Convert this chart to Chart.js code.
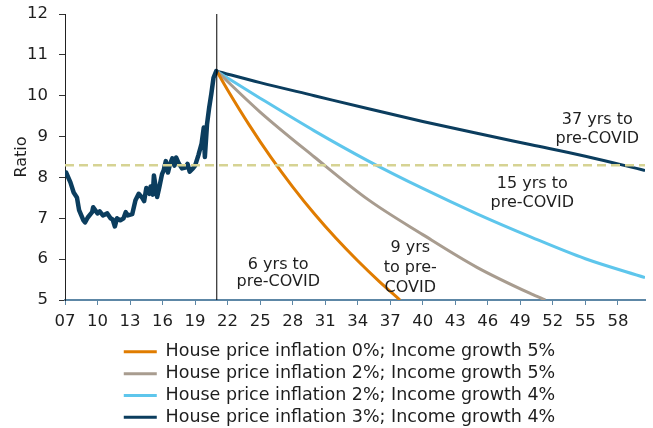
<!DOCTYPE html>
<html>
<head>
<meta charset="utf-8">
<script src="https://cdn.jsdelivr.net/npm/chart.js@4/dist/chart.umd.min.js"></script>
<style>
	html, body { margin: 0; padding: 0; background: #fff; }
	.chart-box { width: 653px; height: 428px; }
</style>
</head>
<body>
<div class="chart-box"><canvas id="ratio-chart"></canvas></div>
<script>
// historical house price to income ratio
const histYears = [2007.1, 2007.5, 2007.8, 2008.1, 2008.3, 2008.7, 2008.85, 2009.1, 2009.5, 2009.6,
	2010.0, 2010.2, 2010.5, 2010.9, 2011.2, 2011.4, 2011.6, 2011.8, 2012.1, 2012.4,
	2012.6, 2012.8, 2013.2, 2013.5, 2013.8, 2014.1, 2014.3, 2014.5, 2014.8, 2014.9,
	2015.1, 2015.2, 2015.5, 2015.7, 2015.95, 2016.1, 2016.3, 2016.5, 2016.7, 2016.9,
	2017.1, 2017.25, 2017.5, 2017.8, 2018.1, 2018.3, 2018.5, 2018.8, 2019.0, 2019.3,
	2019.6, 2019.8, 2019.9, 2020.1, 2020.3, 2020.5, 2020.7, 2020.95, 2021.0];
const histRatio = [8.12, 7.88, 7.63, 7.51, 7.2, 6.95, 6.9, 7.02, 7.15, 7.27,
	7.12, 7.17, 7.07, 7.12, 7.0, 6.97, 6.8, 7.0, 6.95, 7.0,
	7.15, 7.07, 7.1, 7.44, 7.6, 7.51, 7.42, 7.74, 7.6, 7.78,
	7.58, 8.05, 7.52, 7.76, 8.08, 8.17, 8.4, 8.12, 8.34, 8.47,
	8.29, 8.49, 8.34, 8.22, 8.24, 8.33, 8.14, 8.22, 8.29, 8.54,
	8.83, 9.22, 8.5, 9.3, 9.71, 10.05, 10.44, 10.6, 10.6];

// projections
const hpi0Years = [2021, 2022, 2024, 2026, 2028, 2030, 2032, 2034, 2036, 2037.9];
const hpi0Ratio = [10.6, 10.14, 9.28, 8.49, 7.77, 7.11, 6.51, 5.96, 5.45, 5.0];
const hpi2inc5Years = [2021, 2025, 2030, 2035, 2040, 2045, 2050, 2051.3];
const hpi2inc5Ratio = [10.6, 9.6, 8.5, 7.45, 6.6, 5.8, 5.15, 5.0];
const hpi2inc4Years = [2021, 2025, 2030, 2035, 2040, 2045, 2050, 2055, 2060.5];
const hpi2inc4Ratio = [10.6, 9.94, 9.14, 8.4, 7.73, 7.11, 6.54, 6.01, 5.55];
const hpi3inc4Years = [2021, 2025, 2030, 2035, 2040, 2045, 2050, 2055, 2060.5];
const hpi3inc4Ratio = [10.6, 10.32, 10.0, 9.68, 9.37, 9.08, 8.8, 8.52, 8.17];

const preCovidLevel = 8.3;
const startYear = 2007;
const endYear = 2060.5;
const covidYear = 2021;

const seriesLabels = [
	'House price inflation 0%; Income growth 5%',
	'House price inflation 2%; Income growth 5%',
	'House price inflation 2%; Income growth 4%',
	'House price inflation 3%; Income growth 4%',
];

const notes = [
	{ x: 2026.67, y: [5.85, 5.44], lines: ['6 yrs to', 'pre-COVID'] },
	{ x: 2038.85, y: [6.27, 5.78, 5.29], lines: ['9 yrs', 'to pre-', 'COVID'] },
	{ x: 2050.1, y: [7.85, 7.39], lines: ['15 yrs to', 'pre-COVID'] },
	{ x: 2056.1, y: [9.41, 8.95], lines: ['37 yrs to', 'pre-COVID'] },
];

const FONT = 'DejaVu Sans';
const NAVY = '#0b3d5e';
const TEXT = '#1e1e1e';

const toPoints = (xs, ys) => xs.map((x, i) => ({ x, y: ys[i] }));

const projection = (label, xs, ys, color) => ({
	label,
	data: toPoints(xs, ys),
	borderColor: color,
	backgroundColor: color,
	borderWidth: 3,
	pointRadius: 0,
	cubicInterpolationMode: 'monotone',
	showInLegend: true,
});

const notesPlugin = {
	id: 'notes',
	afterLayout(chart) {
		// legend sits a bit right of the page centre
		chart.legend.left += 17;
		chart.legend.right += 17;
	},
	afterDatasetsDraw(chart) {
		const { ctx, scales } = chart;
		ctx.save();
		ctx.font = '16px ' + FONT;
		ctx.fillStyle = TEXT;
		ctx.textAlign = 'center';
		ctx.textBaseline = 'middle';
		notes.forEach((n) => {
			n.lines.forEach((line, i) => {
				ctx.fillText(line, scales.x.getPixelForValue(n.x), scales.y.getPixelForValue(n.y[i]));
			});
		});
		ctx.restore();
	},
};

const ctx = document.getElementById('ratio-chart');

new Chart(ctx, {
	type: 'line',
	data: {
		datasets: [
			{
				label: 'pre-COVID',
				data: toPoints([startYear, endYear], [preCovidLevel, preCovidLevel]),
				borderColor: '#d6d393',
				borderWidth: 2.5,
				borderDash: [9, 5],
				pointRadius: 0,
			},
			{
				label: 'now',
				data: toPoints([covidYear, covidYear], [5, 12]),
				borderColor: '#000',
				borderWidth: 1,
				pointRadius: 0,
			},
			{
				label: 'history',
				data: toPoints(histYears, histRatio),
				borderColor: NAVY,
				borderWidth: 4.5,
				borderJoinStyle: 'round',
				borderCapStyle: 'round',
				pointRadius: 0,
				tension: 0,
			},
			projection(seriesLabels[0], hpi0Years, hpi0Ratio, '#e07c00'),
			projection(seriesLabels[1], hpi2inc5Years, hpi2inc5Ratio, '#a89c8f'),
			projection(seriesLabels[2], hpi2inc4Years, hpi2inc4Ratio, '#5ec6ec'),
			projection(seriesLabels[3], hpi3inc4Years, hpi3inc4Ratio, NAVY),
		],
	},
	options: {
		animation: false,
		responsive: true,
		maintainAspectRatio: false,
		layout: {
			padding: { left: 0, right: 8, top: 5, bottom: -8 },
		},
		plugins: {
			legend: {
				position: 'bottom',
				labels: {
					font: { family: FONT, size: 17.5 },
					color: TEXT,
					boxWidth: 33,
					boxHeight: 3,
					padding: 4.3,
					generateLabels: (chart) =>
						Chart.defaults.plugins.legend.labels
							.generateLabels(chart)
							.filter((item) => chart.data.datasets[item.datasetIndex].showInLegend)
							.map((item) => ({ ...item, fillStyle: item.strokeStyle, lineWidth: 0 })),
				},
			},
			tooltip: { enabled: false },
		},
		scales: {
			x: {
				type: 'linear',
				min: startYear,
				max: endYear,
				grid: {
					drawOnChartArea: false,
					drawTicks: true,
					tickLength: 5,
					color: '#5d87a6',
				},
				border: { color: '#5d87a6', width: 2 },
				ticks: {
					stepSize: 3,
					includeBounds: false,
					autoSkip: false,
					maxRotation: 0,
					padding: 7,
					font: { family: FONT, size: 16.5 },
					color: TEXT,
					callback: (v) => String(v % 100).padStart(2, '0'),
				},
			},
			y: {
				min: 5,
				max: 12,
				afterFit: (scale) => {
					scale.width = 65;
					scale.paddingTop = 14;
					scale.paddingBottom = 14;
				},
				grid: {
					drawOnChartArea: false,
					drawTicks: true,
					tickLength: 6,
					color: '#333',
				},
				border: { color: '#222', width: 1 },
				ticks: {
					stepSize: 1,
					padding: 11,
					font: { family: FONT, size: 16.5 },
					color: TEXT,
				},
				title: {
					display: true,
					text: 'Ratio',
					font: { family: FONT, size: 16 },
					color: TEXT,
					padding: { top: 12, bottom: -8 },
				},
			},
		},
	},
	plugins: [notesPlugin],
});
</script>
</body>
</html>
